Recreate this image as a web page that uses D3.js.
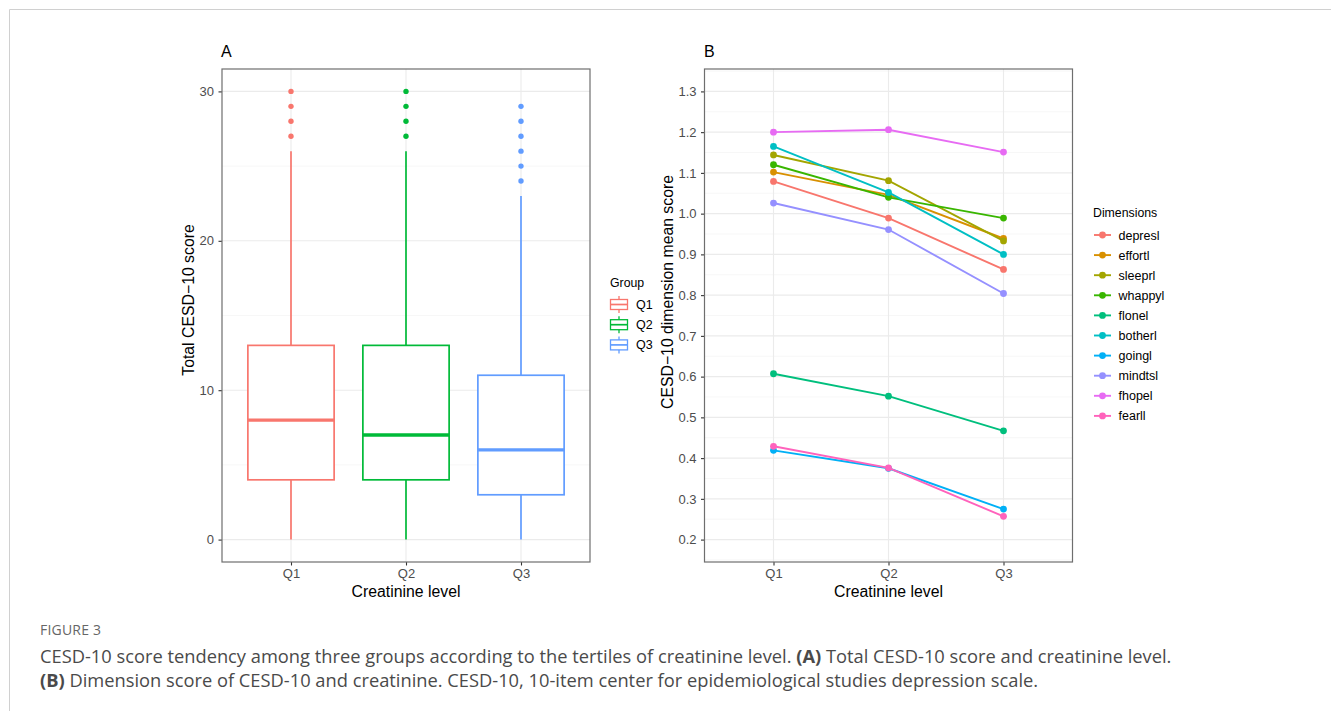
<!DOCTYPE html>
<html>
<head>
<meta charset="utf-8">
<script src="https://cdn.jsdelivr.net/npm/d3@7"></script>
<style>
  body { margin: 0; background: #fff; }
  text { font-family: "Liberation Sans", Arial, sans-serif; }
  .cap { font-family: "Open Sans", "Noto Sans", sans-serif; }
</style>
</head>
<body>
<svg id="fig" width="1331" height="711"></svg>
<script>
// ---- data ----
const groups = ["Q1", "Q2", "Q3"];
const groupColors = ["#F8766D", "#00BA38", "#619CFF"];
const whiskerLow = [0, 0, 0];
const boxLower = [4, 4, 3];
const boxMedian = [8, 7, 6];
const boxUpper = [13, 13, 11];
const whiskerHigh = [26, 26, 23];
const outliers = [[27, 28, 29, 30], [27, 28, 29, 30], [24, 25, 26, 27, 28, 29]];
const ticksA = [0, 10, 20, 30];

const dimensions = ["depresl", "effortl", "sleeprl", "whappyl", "flonel",
                    "botherl", "goingl", "mindtsl", "fhopel", "fearll"];
const dimColors = ["#F8766D", "#D89000", "#A3A500", "#39B600", "#00BF7D",
                   "#00BFC4", "#00B0F6", "#9590FF", "#E76BF3", "#FF62BC"];
const depresl = [1.079, 0.989, 0.863];
const effortl = [1.102, 1.046, 0.939];
const sleeprl = [1.144, 1.081, 0.933];
const whappyl = [1.120, 1.040, 0.989];
const flonel  = [0.607, 0.552, 0.467];
const botherl = [1.165, 1.052, 0.900];
const goingl  = [0.419, 0.375, 0.275];
const mindtsl = [1.026, 0.961, 0.804];
const fhopel  = [1.200, 1.206, 1.151];
const fearll  = [0.429, 0.376, 0.257];
const dimValues = [depresl, effortl, sleeprl, whappyl, flonel,
                   botherl, goingl, mindtsl, fhopel, fearll];
const ticksB = [0.2, 0.3, 0.4, 0.5, 0.6, 0.7, 0.8, 0.9, 1.0, 1.1, 1.2, 1.3];

// ---- layout ----
const svg = d3.select("#fig");
const panTop = 69, panBottom = 562;
const panA = {left: 222, right: 590};
const panB = {left: 704.5, right: 1072.5};

// figure frame
svg.append("path")
    .attr("d", "M9.5,711 V9.5 H1331")
    .attr("fill", "none")
    .attr("stroke", "#d0d0d0")
    .attr("stroke-width", 1);

function panel(p, yScale, major, minor) {
    const x = d3.scalePoint().domain(groups).range([p.left, p.right]).padding(0.6);
    const g = svg.append("g");
    g.selectAll(".minor").data(minor).enter().append("line")
        .attr("x1", p.left).attr("x2", p.right)
        .attr("y1", d => yScale(d)).attr("y2", d => yScale(d))
        .attr("stroke", "#f3f3f3").attr("stroke-width", 0.7);
    g.selectAll(".major").data(major).enter().append("line")
        .attr("x1", p.left).attr("x2", p.right)
        .attr("y1", d => yScale(d)).attr("y2", d => yScale(d))
        .attr("stroke", "#ebebeb").attr("stroke-width", 1.1);
    g.selectAll(".vmajor").data(groups).enter().append("line")
        .attr("x1", d => x(d)).attr("x2", d => x(d))
        .attr("y1", panTop).attr("y2", panBottom)
        .attr("stroke", "#ebebeb").attr("stroke-width", 1.1);

    const ya = svg.append("g")
        .attr("transform", `translate(${p.left},0)`)
        .call(d3.axisLeft(yScale).tickValues(major).tickSize(3.5).tickPadding(4.5)
              .tickFormat(d3.format(major[1] - major[0] < 1 ? ".1f" : "d")));
    const xa = svg.append("g")
        .attr("transform", `translate(0,${panBottom})`)
        .call(d3.axisBottom(x).tickSize(3.5).tickPadding(3));
    [ya, xa].forEach(a => {
        a.select(".domain").remove();
        a.selectAll(".tick line").attr("stroke", "#333").attr("stroke-width", 1.1);
        a.selectAll(".tick text").attr("fill", "#4d4d4d")
            .style("font-size", "13px")
            .style("font-family", "'Liberation Sans', Arial, sans-serif");
    });
    return x;
}

function frame(p) {
    svg.append("rect")
        .attr("x", p.left).attr("y", panTop)
        .attr("width", p.right - p.left).attr("height", panBottom - panTop)
        .attr("fill", "none").attr("stroke", "#6e6e6e").attr("stroke-width", 1.2);
}

// ---- panel A: boxplots ----
const yA = d3.scaleLinear().domain([-1.5, 31.5]).range([panBottom, panTop]);
const xA = panel(panA, yA, ticksA, [5, 15, 25]);
const boxW = xA.step() * 0.75;

groups.forEach((q, i) => {
    const cx = xA(q), col = groupColors[i];
    const g = svg.append("g").attr("stroke", col).attr("fill", "none");
    g.append("line").attr("x1", cx).attr("x2", cx)
        .attr("y1", yA(boxUpper[i])).attr("y2", yA(whiskerHigh[i])).attr("stroke-width", 1.7);
    g.append("line").attr("x1", cx).attr("x2", cx)
        .attr("y1", yA(boxLower[i])).attr("y2", yA(whiskerLow[i])).attr("stroke-width", 1.7);
    g.append("rect")
        .attr("x", cx - boxW / 2).attr("width", boxW)
        .attr("y", yA(boxUpper[i])).attr("height", yA(boxLower[i]) - yA(boxUpper[i]))
        .attr("fill", "#fff").attr("stroke-width", 1.7);
    g.append("line").attr("x1", cx - boxW / 2).attr("x2", cx + boxW / 2)
        .attr("y1", yA(boxMedian[i])).attr("y2", yA(boxMedian[i])).attr("stroke-width", 3.3);
    g.selectAll("circle").data(outliers[i]).enter().append("circle")
        .attr("cx", cx).attr("cy", d => yA(d)).attr("r", 2.7)
        .attr("fill", col).attr("stroke", "none");
});
frame(panA);

// ---- panel B: dimension means ----
const yB = d3.scaleLinear().domain([0.145, 1.355]).range([panBottom, panTop]);
const minorB = d3.range(0.15, 1.36, 0.1);
const xB = panel(panB, yB, ticksB, minorB);
const line = d3.line().x((d, i) => xB(groups[i])).y(d => yB(d));

dimensions.forEach((name, k) => {
    const g = svg.append("g");
    g.append("path").datum(dimValues[k]).attr("d", line)
        .attr("fill", "none").attr("stroke", dimColors[k]).attr("stroke-width", 1.9);
    g.selectAll("circle").data(dimValues[k]).enter().append("circle")
        .attr("cx", (d, i) => xB(groups[i])).attr("cy", d => yB(d)).attr("r", 3.4)
        .attr("fill", dimColors[k]);
});
frame(panB);

// ---- titles ----
function txt(x, y, s, size, opts = {}) {
    const t = svg.append("text").attr("x", x).attr("y", y).text(s)
        .style("font-size", size + "px").attr("fill", opts.fill || "#000");
    if (opts.anchor) t.attr("text-anchor", opts.anchor);
    if (opts.rotate) t.attr("transform", `rotate(-90,${x},${y})`);
    if (opts.cls) t.attr("class", opts.cls);
    return t;
}
txt(221, 57, "A", 16);
txt(704, 57, "B", 16);
txt((panA.left + panA.right) / 2, 597, "Creatinine level", 15.8, {anchor: "middle"});
txt((panB.left + panB.right) / 2, 597, "Creatinine level", 15.8, {anchor: "middle"});
txt(194, 300, "Total CESD\u221210 score", 15.8, {anchor: "middle", rotate: true});
txt(672.5, 292, "CESD\u221210 dimension mean score", 15.8, {anchor: "middle", rotate: true});

// ---- legend: Group ----
txt(610, 287, "Group", 12.3);
groups.forEach((q, i) => {
    const cy = 304.5 + i * 20.2, cx = 619, col = groupColors[i];
    const g = svg.append("g").attr("stroke", col).attr("fill", "none").attr("stroke-width", 1.3);
    g.append("line").attr("x1", cx).attr("x2", cx).attr("y1", cy - 8.5).attr("y2", cy + 8.5);
    g.append("rect").attr("x", cx - 8.5).attr("y", cy - 5).attr("width", 17).attr("height", 10)
        .attr("fill", "#fff");
    g.append("line").attr("x1", cx - 8.5).attr("x2", cx + 8.5).attr("y1", cy).attr("y2", cy)
        .attr("stroke-width", 1.7);
    txt(636, cy + 4.5, q, 12.5);
});

// ---- legend: Dimensions ----
txt(1093, 216.5, "Dimensions", 12.3);
dimensions.forEach((name, k) => {
    const cy = 235 + k * 20.1;
    svg.append("line").attr("x1", 1094).attr("x2", 1111).attr("y1", cy).attr("y2", cy)
        .attr("stroke", dimColors[k]).attr("stroke-width", 1.9);
    svg.append("circle").attr("cx", 1102.5).attr("cy", cy).attr("r", 3.4).attr("fill", dimColors[k]);
    txt(1118.5, cy + 4.5, name, 12.5);
});

// ---- caption ----
txt(40, 635, "FIGURE 3", 14, {fill: "#666", cls: "cap"}).style("letter-spacing", "0.2px");
const c1 = txt(40, 663, "", 18.3, {fill: "#4a4a4a", cls: "cap"});
c1.append("tspan").text("CESD-10 score tendency among three groups according to the tertiles of creatinine level. ");
c1.append("tspan").text("(A)").style("font-weight", "bold");
c1.append("tspan").text(" Total CESD-10 score and creatinine level.");
const c2 = txt(40, 687, "", 18.3, {fill: "#4a4a4a", cls: "cap"});
c2.append("tspan").text("(B)").style("font-weight", "bold");
c2.append("tspan").text(" Dimension score of CESD-10 and creatinine. CESD-10, 10-item center for epidemiological studies depression scale.");
</script>
</body>
</html>
